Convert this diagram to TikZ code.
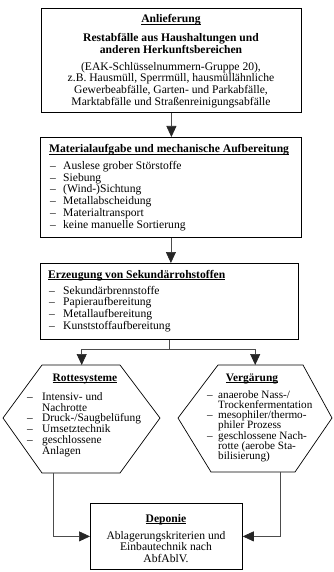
\documentclass[tikz,border=0pt]{standalone}
\usepackage{fontspec}
\setmainfont{Liberation Serif}
\usetikzlibrary{arrows.meta}
\lineskiplimit=-8pt
\newcommand\ulx[1]{\setbox0\hbox{#1}\rlap{\rule[-1.8pt]{\wd0}{0.6pt}}\box0}
\newcommand\tsx{\rule{0pt}{9pt}}
\newcommand\itm{\makebox[13pt][l]{--}}
\newcommand\itmh{\makebox[15pt][l]{--}}
\newcommand\indh{\hspace*{15pt}}
\newcommand\itmr{\makebox[11pt][l]{--}}
\newcommand\indr{\hspace*{11pt}}
\begin{document}
\begin{tikzpicture}[x=1pt,y=-1pt,
  frame/.style={draw=black,line width=0.8pt,inner sep=0pt,anchor=north west},
  hexbox/.style={draw=none,inner sep=0pt,anchor=north west},
  hexline/.style={draw=black,line width=0.7pt,line join=miter},
  conn/.style={draw=black!70,line width=0.7pt,-{Triangle[length=11pt,width=10pt,fill=black!85,color=black!85]}},
  plain/.style={draw=black!70,line width=0.7pt},
  txt/.style={inner sep=0pt,font=\fontsize{11.6}{11.7}\selectfont},
  txth/.style={inner sep=0pt,font=\fontsize{11.4}{10.8}\selectfont},
]
\useasboundingbox[fill=white] (0,0) rectangle (334,572);

% frames
\node[frame,minimum width=260pt,minimum height=104pt] (b1) at (41,8) {};
\node[frame,minimum width=261pt,minimum height=100pt] (b2) at (40,137) {};
\node[frame,minimum width=258pt,minimum height=76pt] (b3) at (40,263) {};
\node[frame,minimum width=152pt,minimum height=66pt] (dep) at (90,503) {};

% hexagons
\node[hexbox,minimum width=157pt,minimum height=108pt] (hexL) at (3,365) {};
\node[hexbox,minimum width=154pt,minimum height=107pt] (hexR) at (178,365) {};
\draw[hexline] (3,418) -- (42,365) -- (120,365) -- (160,418) -- (120,473) -- (42,473) -- cycle;
\draw[hexline] (178,418) -- (218,365) -- (303,365) -- (332,418) -- (295,472) -- (211,472) -- cycle;

% box 1 text
\node[txt,anchor=base] (t1a) at (171,23) {\textbf{\ulx{Anlieferung}}};
\node[txt,anchor=north,align=center,font=\fontsize{11.6}{12}\selectfont] (t1b) at (171,32) {\tsx\textbf{Restabfälle aus Haushaltungen und}\\\textbf{anderen Herkunftsbereichen}};
\node[txt,anchor=north,align=center] (t1c) at (171,61) {\tsx(EAK-Schlüsselnummern-Gruppe 20),\\z.B. Hausmüll, Sperrmüll, hausmüllähnliche\\Gewerbeabfälle, Garten- und Parkabfälle,\\Marktabfälle und Straßenreinigungsabfälle};

% box 2 text
\node[txt,anchor=base west] (t2a) at (49,153) {\textbf{\ulx{Materialaufgabe und mechanische Aufbereitung}}};
\node[txt,anchor=north west,align=left,font=\fontsize{11.6}{11.8}\selectfont] (t2b) at (50,160) {\tsx\itm Auslese grober Störstoffe\\\itm Siebung\\\itm (Wind-)Sichtung\\\itm Metallabscheidung\\\itm Materialtransport\\\itm keine manuelle Sortierung};

% box 3 text
\node[txt,anchor=base west] (t3a) at (48,278) {\textbf{\ulx{Erzeugung von Sekundärrohstoffen}}};
\node[txt,anchor=north west,align=left] (t3b) at (49,285) {\tsx\makebox[14pt][l]{--}Sekundärbrennstoffe\\\makebox[14pt][l]{--}Papieraufbereitung\\\makebox[14pt][l]{--}Metallaufbereitung\\\makebox[14pt][l]{--}Kunststoffaufbereitung};

% left hexagon text
\node[txth,anchor=base] (tLa) at (85,381) {\textbf{\ulx{Rottesysteme}}};
\node[txth,anchor=north west,align=left] (tLb) at (27,391) {\tsx\itmh Intensiv- und\\\indh Nachrotte\\\itmh Druck-/Saugbelüfung\\\itmh Umsetztechnik\\\itmh geschlossene\\\indh Anlagen};

% right hexagon text
\node[txth,anchor=base] (tRa) at (252,381) {\textbf{\ulx{Vergärung}}};
\node[txth,anchor=north west,align=left,font=\fontsize{11.2}{10.25}\selectfont] (tRb) at (207,389) {\tsx\itmr anaerobe Nass-/\\\indr Trockenfermentation\\\itmr mesophiler/thermo-\\\indr philer Prozess\\\itmr geschlossene Nach-\\\indr rotte (aerobe Sta-\\\indr bilisierung)};

% Deponie text
\node[txt,anchor=base] (tDa) at (166,522) {\textbf{\ulx{Deponie}}};
\node[txt,anchor=north,align=center,font=\fontsize{11.6}{11.5}\selectfont] (tDb) at (166,530) {\tsx Ablagerungskriterien und\\Einbautechnik nach\\AbfAblV.};

% connectors
\draw[conn] (b1.south) -- (b1.south |- b2.north);
\draw[conn] (b2.south) -- (b2.south |- b3.north);
\draw[plain] (b3.south) -- ++(0,10) coordinate (split);
\draw[conn] (split) -| (hexL.north);
\draw[conn] (split) -| (hexR.north);
\coordinate (hlOut) at (53,473);
\coordinate (hrOut) at (280,472);
\draw[conn] (hlOut) |- (dep.west);
\draw[conn] (hrOut) |- (dep.east);
\end{tikzpicture}
\end{document}
